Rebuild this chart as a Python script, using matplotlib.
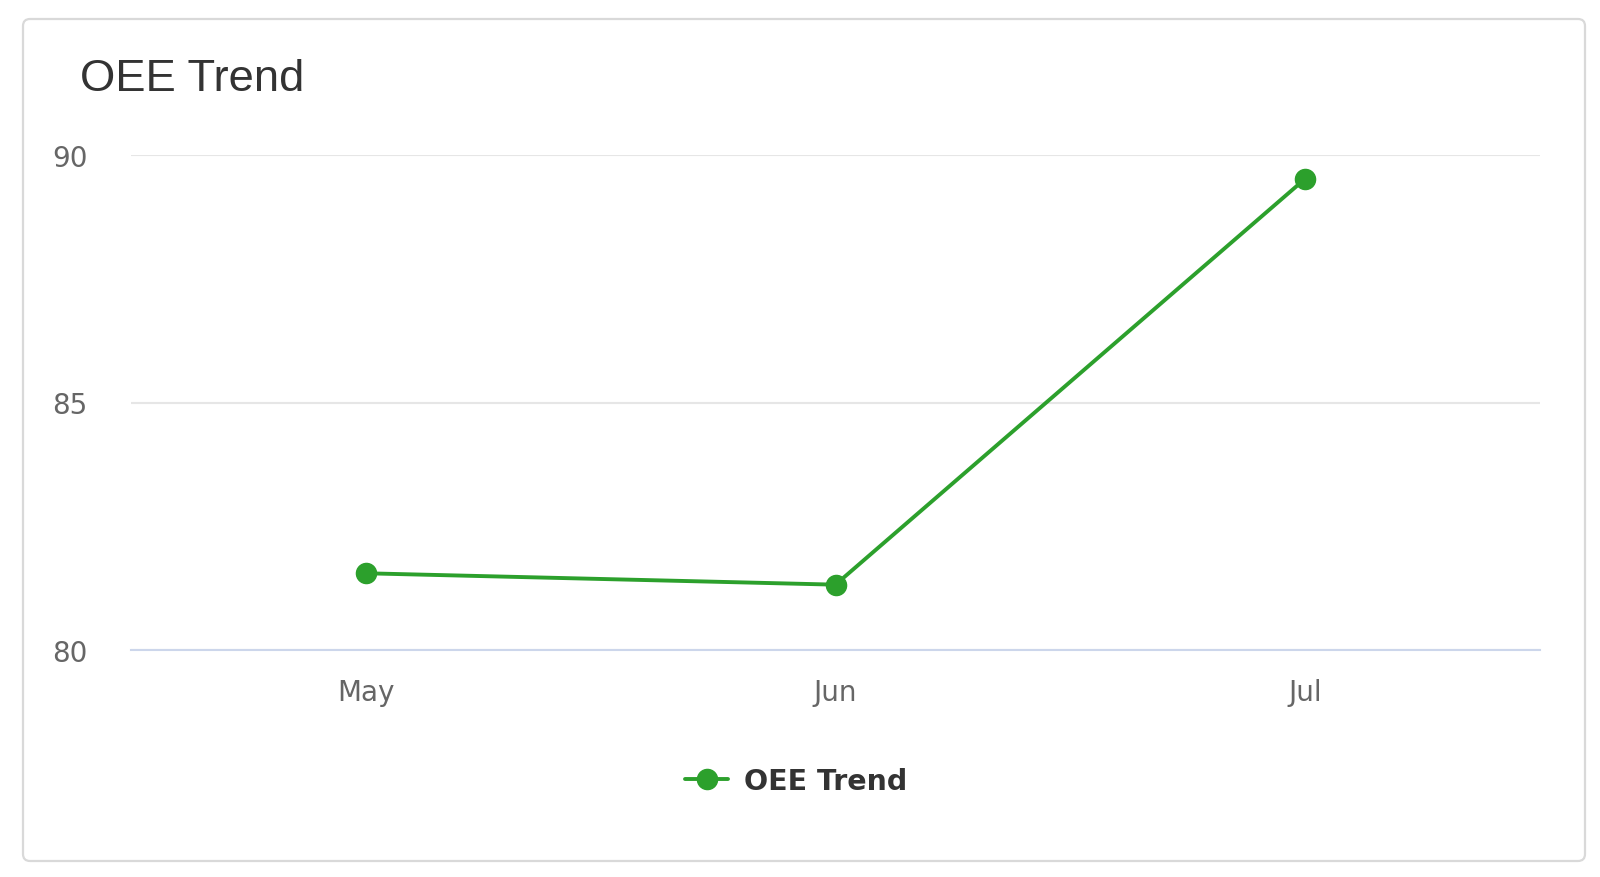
import matplotlib
matplotlib.use("Agg")
import matplotlib.pyplot as plt
from matplotlib.patches import FancyBboxPatch

months = ["May", "Jun", "Jul"]
oee = [81.55, 81.32, 89.52]
y_ticks = [80, 85, 90]
series_name = "OEE Trend"
title = "OEE Trend"

W, H = 1600, 878
fig = plt.figure(figsize=(W / 100, H / 100), dpi=100)
fig.patch.set_facecolor("white")

# card border
card = FancyBboxPatch((23, H - 862), 1562, 842,
                      boxstyle="round,pad=0,rounding_size=7",
                      transform=None, facecolor="none",
                      edgecolor="#d9d9d9", linewidth=1.6, zorder=-1)
fig.patches.append(card)

ax = fig.add_axes([131 / W, 1 - 651 / H, (1540 - 131) / W, (651 - 156) / H])
ax.set_facecolor("none")

x = list(range(len(months)))
green = "#2ca02c"
ax.plot(x, oee, color=green, lw=2.8, marker="o", ms=14.5,
        solid_capstyle="round", label=series_name, zorder=3, clip_on=False)

ax.set_xlim(-0.5, len(months) - 0.5)
ax.set_ylim(y_ticks[0], y_ticks[-1])
ax.set_yticks(y_ticks)
ax.set_xticks(x)
ax.set_xticklabels(months)

for s in ["top", "right", "left"]:
    ax.spines[s].set_visible(False)
ax.spines["bottom"].set_color("#ccd6eb")
ax.spines["bottom"].set_linewidth(1.5)
ax.spines["bottom"].set_zorder(2)

ax.yaxis.grid(True, color="#e6e6e6", linewidth=1.5, zorder=1)
ax.set_axisbelow(True)

ax.tick_params(axis="x", length=0, pad=20, labelsize=20, labelcolor="#666666")
ax.tick_params(axis="y", length=0, pad=57, labelsize=20, labelcolor="#666666")
for lab in ax.get_yticklabels():
    lab.set_horizontalalignment("left")

fig.text(80 / W, 1 - 91 / H, title, fontsize=32.7, color="#333333",
         family="Liberation Sans", ha="left", va="baseline")

leg = fig.legend(loc="center", bbox_to_anchor=(796 / W, 1 - 782 / H),
                 frameon=False, handlelength=1.5, handletextpad=0.55,
                 prop={"size": 20.5, "weight": "bold"})
for t in leg.get_texts():
    t.set_color("#333333")

fig.savefig("out.png", dpi=100, facecolor="white")
